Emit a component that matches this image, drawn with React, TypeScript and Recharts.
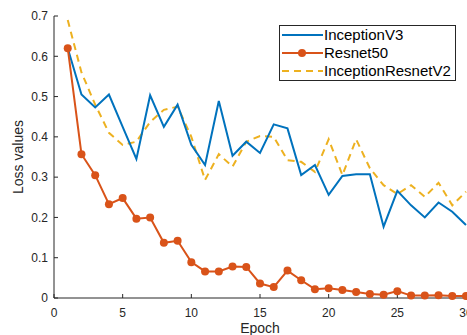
import React from 'react';
import { LineChart, Line, XAxis, YAxis, Legend } from 'recharts';

const epochs = [1, 2, 3, 4, 5, 6, 7, 8, 9, 10, 11, 12, 13, 14, 15, 16, 17, 18, 19, 20, 21, 22, 23, 24, 25, 26, 27, 28, 29, 30];
const inceptionV3 = [0.62, 0.505, 0.473, 0.505, 0.425, 0.345, 0.503, 0.425, 0.48, 0.38, 0.33, 0.489, 0.353, 0.388, 0.36, 0.431, 0.421, 0.305, 0.33, 0.256, 0.303, 0.307, 0.307, 0.177, 0.266, 0.23, 0.2, 0.237, 0.214, 0.181];
const resnet50 = [0.62, 0.357, 0.305, 0.233, 0.248, 0.197, 0.2, 0.137, 0.142, 0.089, 0.066, 0.066, 0.078, 0.077, 0.036, 0.027, 0.068, 0.044, 0.022, 0.024, 0.02, 0.015, 0.01, 0.008, 0.017, 0.006, 0.006, 0.007, 0.005, 0.005];
const inceptionResnetV2 = [0.69, 0.56, 0.48, 0.41, 0.38, 0.388, 0.437, 0.467, 0.475, 0.4, 0.293, 0.357, 0.326, 0.388, 0.402, 0.4, 0.342, 0.338, 0.313, 0.394, 0.305, 0.394, 0.322, 0.28, 0.258, 0.28, 0.251, 0.286, 0.23, 0.264];
const xTicks = [0, 5, 10, 15, 20, 25, 30];
const yTicks = [0, 0.1, 0.2, 0.3, 0.4, 0.5, 0.6, 0.7];
const seriesNames = ['InceptionV3', 'Resnet50', 'InceptionResnetV2'];

const data = epochs.map((e, i) => ({
  epoch: e,
  v3: inceptionV3[i],
  r50: resnet50[i],
  irv2: inceptionResnetV2[i],
}));

const FONT = '"Liberation Sans", Arial, Helvetica, sans-serif';
const AXIS = '#262626';
const BLUE = '#0072BD';
const ORANGE = '#D95319';
const YELLOW = '#EDB120';

const renderLegend = () => (
  <div
    style={{
      width: 177,
      height: 56,
      border: `1px solid ${AXIS}`,
      background: '#fff',
      boxSizing: 'border-box',
      fontFamily: FONT,
      fontSize: 15,
      color: '#000',
    }}
  >
    {seriesNames.map((name, i) => (
      <div key={name} style={{ display: 'flex', alignItems: 'center', height: 18 }}>
        <svg width={44} height={18} style={{ display: 'block' }}>
          {i === 0 && <line x1={2} y1={9} x2={43} y2={9} stroke={BLUE} strokeWidth={2} />}
          {i === 1 && (
            <g>
              <line x1={2} y1={9} x2={43} y2={9} stroke={ORANGE} strokeWidth={2} />
              <circle cx={22} cy={9} r={4} fill={ORANGE} />
            </g>
          )}
          {i === 2 && <line x1={2} y1={9} x2={43} y2={9} stroke={YELLOW} strokeWidth={2} strokeDasharray="7 5" />}
        </svg>
        <span style={{ lineHeight: '18px', whiteSpace: 'nowrap' }}>{name}</span>
      </div>
    ))}
  </div>
);

export default function App() {
  const tickStyle = { fontSize: 12, fill: AXIS, fontFamily: FONT };
  return (
    <div style={{ position: 'absolute', left: 0, top: 0, width: 467, height: 335, overflow: 'hidden', background: '#fff' }}>
      <LineChart width={480} height={335} data={data} margin={{ top: 16, right: 14, bottom: 0, left: 0 }}>
        <XAxis
          xAxisId="b"
          dataKey="epoch"
          type="number"
          domain={[0, 30]}
          ticks={xTicks}
          interval={0}
          height={37}
          stroke={AXIS}
          tickSize={-4}
          tickMargin={14}
          tick={tickStyle}
          label={{ value: 'Epoch', position: 'insideBottom', offset: 2, style: { fontSize: 14, fill: AXIS, fontFamily: FONT } }}
        />
        <XAxis
          xAxisId="t"
          dataKey="epoch"
          type="number"
          orientation="top"
          domain={[0, 30]}
          ticks={xTicks}
          interval={0}
          height={0}
          stroke={AXIS}
          tickSize={-4}
          tickFormatter={() => ''}
        />
        <YAxis
          yAxisId="l"
          type="number"
          domain={[0, 0.7]}
          ticks={yTicks}
          interval={0}
          width={54}
          stroke={AXIS}
          tickSize={-4}
          tickMargin={10}
          tick={tickStyle}
          tickFormatter={(v: number) => (v === 0 ? '0' : v.toFixed(1))}
          label={{
            value: 'Loss values',
            angle: -90,
            position: 'insideLeft',
            offset: 18,
            style: { fontSize: 14, fill: AXIS, fontFamily: FONT, textAnchor: 'middle' },
          }}
        />
        <YAxis
          yAxisId="r"
          orientation="right"
          type="number"
          domain={[0, 0.7]}
          ticks={yTicks}
          interval={0}
          width={0}
          stroke={AXIS}
          tickSize={-4}
          tickFormatter={() => ''}
        />
        <Legend
          layout="vertical"
          align="center"
          verticalAlign="middle"
          content={renderLegend}
          wrapperStyle={{ position: 'absolute', left: 279, top: 25, width: 177, height: 56 }}
        />
        <Line
          xAxisId="b"
          yAxisId="l"
          dataKey="irv2"
          name="InceptionResnetV2"
          stroke={YELLOW}
          strokeWidth={2}
          strokeDasharray="7 5"
          dot={false}
          isAnimationActive={false}
          type="linear"
        />
        <Line
          xAxisId="b"
          yAxisId="l"
          dataKey="v3"
          name="InceptionV3"
          stroke={BLUE}
          strokeWidth={2}
          dot={false}
          isAnimationActive={false}
          type="linear"
        />
        <Line
          xAxisId="b"
          yAxisId="l"
          dataKey="r50"
          name="Resnet50"
          stroke={ORANGE}
          strokeWidth={2}
          dot={{ r: 4, fill: ORANGE, stroke: ORANGE, strokeWidth: 0 }}
          isAnimationActive={false}
          type="linear"
        />
      </LineChart>
    </div>
  );
}
